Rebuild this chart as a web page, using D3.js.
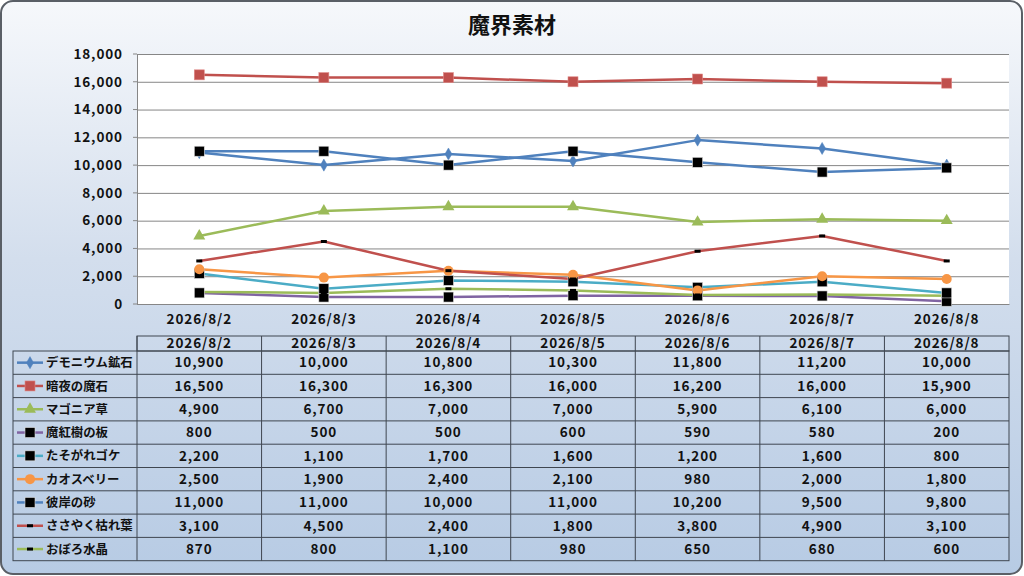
<!DOCTYPE html>
<html><head><meta charset="utf-8">
<script src="https://cdn.jsdelivr.net/npm/d3@7/dist/d3.min.js"></script>
<style>
html,body{margin:0;padding:0;background:#fff;}
svg{display:block;font-family:"Noto Sans CJK JP","Noto Sans",sans-serif;}
</style></head>
<body>
<svg id="c" width="1024" height="576"></svg>
<script>
const title = "魔界素材";
const categories = ["2026/8/2","2026/8/3","2026/8/4","2026/8/5","2026/8/6","2026/8/7","2026/8/8"];
const yTicks = [0,2000,4000,6000,8000,10000,12000,14000,16000,18000];
const seriesNames = ["デモニウム鉱石","暗夜の魔石","マゴニア草","魔紅樹の板","たそがれゴケ","カオスベリー","彼岸の砂","ささやく枯れ葉","おぼろ水晶"];
const demonium = [10900,10000,10800,10300,11800,11200,10000];
const anya     = [16500,16300,16300,16000,16200,16000,15900];
const magonia  = [4900,6700,7000,7000,5900,6100,6000];
const makoju   = [800,500,500,600,590,580,200];
const tasogare = [2200,1100,1700,1600,1200,1600,800];
const chaos    = [2500,1900,2400,2100,980,2000,1800];
const higan    = [11000,11000,10000,11000,10200,9500,9800];
const sasayaku = [3100,4500,2400,1800,3800,4900,3100];
const oboro    = [870,800,1100,980,650,680,600];
const seriesValues = [demonium,anya,magonia,makoju,tasogare,chaos,higan,sasayaku,oboro];
const lineColors = ["#4f81bd","#c0504d","#9bbb59","#8064a2","#4bacc6","#f79646","#4f81bd","#c0504d","#9bbb59"];
const markerTypes = ["diamond","square","triangle","bsquare","bsquare","circle","bsquare","dash","dash"];

const FW = 600, FS = 13.5, LS = "0.9px";
const svg = d3.select("#c");
const defs = svg.append("defs");
const grad = defs.append("linearGradient").attr("id","bg").attr("x1",0).attr("y1",0).attr("x2",0).attr("y2",1);
grad.append("stop").attr("offset","0%").attr("stop-color","#f6f8fb");
grad.append("stop").attr("offset","45%").attr("stop-color","#d3deed");
grad.append("stop").attr("offset","100%").attr("stop-color","#b7cbe4");

svg.append("rect").attr("x",1).attr("y",1).attr("width",1021).attr("height",573)
  .attr("rx",12).attr("fill","url(#bg)").attr("stroke","#5a5f66").attr("stroke-width",2);

svg.append("text").attr("x",512).attr("y",33).attr("text-anchor","middle")
  .attr("font-size",22).attr("font-weight","bold").attr("fill","#111").text(title);

const L = 137, R = 1009, T = 54, B = 304;
const x = d3.scaleBand().domain(categories).range([L,R]);
const y = d3.scaleLinear().domain([0,18000]).range([B,T]);
const cx = c => x(c) + x.bandwidth()/2;

svg.append("rect").attr("x",L).attr("y",T).attr("width",R-L).attr("height",B-T).attr("fill","#fff");

const fmt = d3.format(",");
const yAxis = d3.axisLeft(y).tickValues(yTicks).tickFormat(fmt).tickSize(-(R-L)).tickPadding(14);
const gy = svg.append("g").attr("transform",`translate(${L},0)`).call(yAxis);
gy.select(".domain").attr("stroke","#868686");
gy.selectAll(".tick line").attr("stroke","#868686");
gy.selectAll(".tick text").attr("font-size",FS).attr("font-weight",FW).attr("fill","#111")
  .attr("font-family","'Noto Sans CJK JP',sans-serif").attr("letter-spacing",LS);
svg.append("g").selectAll("line").data(yTicks).join("line")
  .attr("x1",L-4).attr("x2",L).attr("y1",d=>y(d)).attr("y2",d=>y(d)).attr("stroke","#868686");

const xAxis = d3.axisBottom(x).tickSize(0).tickPadding(10);
const gx = svg.append("g").attr("transform",`translate(0,${B})`).call(xAxis);
gx.select(".domain").attr("stroke","#868686");
gx.selectAll(".tick text").attr("font-size",FS).attr("font-weight",FW).attr("fill","#111")
  .attr("font-family","'Noto Sans CJK JP',sans-serif").attr("letter-spacing",LS);

function drawMarker(g, type, color, px, py){
  if(type==="diamond"){
    g.append("path").attr("d",d3.symbol(d3.symbolDiamond,42)()).attr("transform",`translate(${px},${py})`)
      .attr("fill",color).attr("stroke",color).attr("stroke-width",0.5);
  } else if(type==="square"){
    g.append("rect").attr("x",px-5).attr("y",py-5).attr("width",10).attr("height",10).attr("fill",color).attr("stroke","#e08a88").attr("stroke-width",0.6);
  } else if(type==="triangle"){
    g.append("path").attr("d",d3.symbol(d3.symbolTriangle,62)()).attr("transform",`translate(${px},${py})`)
      .attr("fill",color);
  } else if(type==="bsquare"){
    g.append("rect").attr("x",px-5).attr("y",py-5).attr("width",10).attr("height",10).attr("fill","#000").attr("stroke","#ddd").attr("stroke-width",0.6);
  } else if(type==="circle"){
    g.append("circle").attr("cx",px).attr("cy",py).attr("r",5).attr("fill",color);
  } else if(type==="dash"){
    g.append("rect").attr("x",px-3).attr("y",py-1.5).attr("width",6).attr("height",3).attr("fill","#000");
  }
}

const line = d3.line().x((d,i)=>cx(categories[i])).y(d=>y(d));
const plot = svg.append("g");
seriesValues.forEach((vals,si)=>{
  plot.append("path").datum(vals).attr("d",line).attr("fill","none")
    .attr("stroke",lineColors[si]).attr("stroke-width",2.5).attr("stroke-linejoin","round");
});
seriesValues.forEach((vals,si)=>{
  const g = plot.append("g");
  vals.forEach((v,i)=>drawMarker(g, markerTypes[si], lineColors[si], cx(categories[i]), y(v)));
});

// data table
const tT = 336, hH = 15, rH = 23.3, tL = 13;
const nRows = seriesNames.length;
const tB = tT + hH + rH*nRows;
const tg = svg.append("g");
const gridC = "#3f4650";
tg.append("rect").attr("x",L).attr("y",tT).attr("width",R-L).attr("height",hH).attr("fill","none").attr("stroke",gridC);
categories.forEach(c=>{
  tg.append("text").attr("x",cx(c)).attr("y",tT+hH/2+4.8).attr("text-anchor","middle")
    .attr("font-size",FS).attr("font-weight",FW).attr("fill","#111").attr("letter-spacing",LS).text(c);
});
tg.append("rect").attr("x",tL).attr("y",tT+hH).attr("width",R-tL).attr("height",rH*nRows).attr("fill","none").attr("stroke",gridC);
for(let r=1;r<nRows;r++){
  tg.append("line").attr("x1",tL).attr("x2",R).attr("y1",tT+hH+rH*r).attr("y2",tT+hH+rH*r).attr("stroke",gridC);
}
categories.forEach(c=>{
  tg.append("line").attr("x1",x(c)).attr("x2",x(c)).attr("y1",tT).attr("y2",tB).attr("stroke",gridC);
});
seriesNames.forEach((name,si)=>{
  const yc = tT + hH + rH*si + rH/2;
  tg.append("line").attr("x1",17).attr("x2",43).attr("y1",yc).attr("y2",yc).attr("stroke",lineColors[si]).attr("stroke-width",2.5);
  drawMarker(tg, markerTypes[si], lineColors[si], 30, yc);
  tg.append("text").attr("x",46).attr("y",yc+4.6).attr("font-size",12.4).attr("font-weight",FW).attr("fill","#111").text(name);
  seriesValues[si].forEach((v,i)=>{
    tg.append("text").attr("x",cx(categories[i])).attr("y",yc+4.8).attr("text-anchor","middle")
      .attr("font-size",FS).attr("font-weight",FW).attr("fill","#111").attr("letter-spacing",LS).text(fmt(v));
  });
});
</script>
</body></html>
